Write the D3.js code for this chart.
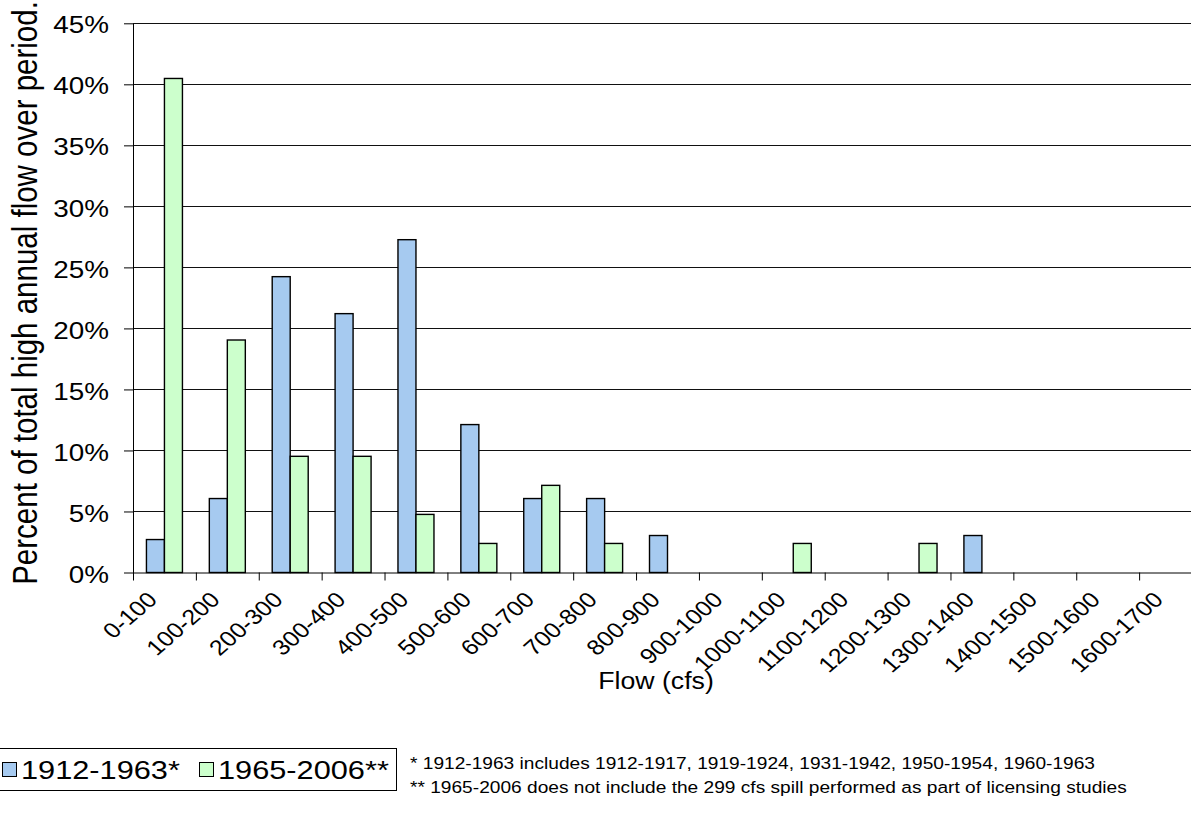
<!DOCTYPE html>
<html>
<head>
<meta charset="utf-8">
<script src="https://cdn.jsdelivr.net/npm/d3@7"></script>
<style>
  body { margin: 0; background: #fff; }
  svg { display: block; }
  text { font-family: "Liberation Sans", Arial, sans-serif; fill: #000; }
</style>
</head>
<body>
<svg id="chart" width="1191" height="813"></svg>
<script>
// Flow classes (cfs)
const categories = ["0-100", "100-200", "200-300", "300-400", "400-500", "500-600",
  "600-700", "700-800", "800-900", "900-1000", "1000-1100", "1100-1200",
  "1200-1300", "1300-1400", "1400-1500", "1500-1600", "1600-1700"];

// Percent of total high annual flow per class
const series1912 = [2.7, 6.06, 24.24, 21.21, 27.27, 12.12, 6.06, 6.06, 3.03, 0, 0, 0, 0, 3.03, 0, 0, 0];
const series1965 = [40.48, 19.05, 9.52, 9.52, 4.76, 2.38, 7.14, 2.38, 0, 0, 2.38, 0, 2.38, 0, 0, 0, 0];

const seriesNames = ["1912-1963*", "1965-2006**"];
const seriesColors = ["#A6CAF0", "#CCFFCC"];

const yTicks = [0, 5, 10, 15, 20, 25, 30, 35, 40, 45];

const footnotes = [
  "* 1912-1963 includes 1912-1917, 1919-1924, 1931-1942, 1950-1954, 1960-1963",
  "** 1965-2006 does not include the 299 cfs spill performed as part of licensing studies"
];

const xTitle = "Flow (cfs)";
const yTitle = "Percent of total high annual flow over period.";

// ---------------------------------------------------------------
const SX = 1.16;      // horizontal text stretch
const svg = d3.select("#chart");
const plotL = 133, plotR = 1202, plotT = 23.3, plotB = 572.5;

const x = d3.scaleBand().domain(categories).range([plotL, plotR]).padding(0);
const xs = d3.scaleBand().domain(seriesNames).range([0, x.bandwidth()])
  .paddingInner(0).paddingOuter(0.747);
const xIdx = d3.scaleLinear().domain([0, categories.length]).range([plotL, plotR]);
const y = d3.scaleLinear().domain([0, 45]).range([plotB, plotT]);

const rows = categories.map((c, i) => ({ cat: c, vals: [series1912[i], series1965[i]] }));

// gridlines
svg.append("g").selectAll("line")
  .data(yTicks.filter(d => d > 0))
  .join("line")
  .attr("x1", plotL).attr("x2", 1191)
  .attr("y1", d => Math.round(y(d)) + 0.5).attr("y2", d => Math.round(y(d)) + 0.5)
  .attr("stroke", "#111").attr("stroke-width", 1);

// bars
const groups = svg.append("g").selectAll("g")
  .data(rows).join("g")
  .attr("transform", d => `translate(${x(d.cat)},0)`);
groups.selectAll("rect")
  .data(d => d.vals.map((v, k) => ({ v, k })).filter(e => e.v > 0))
  .join("rect")
  .attr("x", e => xs(seriesNames[e.k]))
  .attr("width", xs.bandwidth())
  .attr("y", e => y(e.v))
  .attr("height", e => y(0) - y(e.v))
  .attr("fill", e => seriesColors[e.k])
  .attr("stroke", "#000").attr("stroke-width", 1.4);

// y axis
const yAxis = svg.append("g").attr("transform", `translate(${plotL},0)`)
  .call(d3.axisLeft(y).tickValues(yTicks).tickSize(9).tickSizeOuter(0)
    .tickFormat(d => d + "%"));
yAxis.selectAll("path, line").attr("stroke", "#000");
yAxis.selectAll("text")
  .attr("x", 0).attr("dy", "0.36em")
  .attr("text-anchor", "end")
  .attr("font-size", 24)
  .attr("transform", `translate(-24,1) scale(${SX},1)`);

// x axis: tick marks at class boundaries
const xAxis = svg.append("g").attr("transform", `translate(0,${plotB})`)
  .call(d3.axisBottom(xIdx).tickValues(d3.range(0, categories.length + 1))
    .tickSize(8).tickSizeOuter(0).tickFormat(""));
xAxis.selectAll("path, line").attr("stroke", "#000");

// x axis: slanted class labels
const xLab = svg.append("g").attr("transform", `translate(0,${plotB})`)
  .call(d3.axisBottom(x).tickSize(0));
xLab.select(".domain").remove();
xLab.selectAll("text")
  .attr("x", 0).attr("y", 0).attr("dy", 0)
  .attr("text-anchor", "end")
  .attr("font-size", 21.5)
  .attr("transform", `translate(-6,28.5) scale(${SX},1) rotate(-45)`);

// axis titles
svg.append("g").attr("transform", `translate(656,689) scale(${SX},1)`)
  .append("text").attr("text-anchor", "middle").attr("font-size", 23).text(xTitle);
svg.append("g").attr("transform", `translate(37,293) scale(${SX},1) rotate(-90)`)
  .append("text").attr("text-anchor", "middle").attr("font-size", 29.5).text(yTitle);

// legend
const lg = svg.append("g");
lg.append("rect").attr("x", -1.5).attr("y", 748.5).attr("width", 398).attr("height", 42)
  .attr("fill", "#fff").attr("stroke", "#000").attr("stroke-width", 1);
const legendX = [2, 199];
seriesNames.forEach((name, k) => {
  lg.append("rect").attr("x", legendX[k] + 0.5).attr("y", 762.5).attr("width", 14).attr("height", 14)
    .attr("fill", seriesColors[k]).attr("stroke", "#000").attr("stroke-width", 1);
  lg.append("g").attr("transform", `translate(${legendX[k] + 19},779) scale(${SX},1)`)
    .append("text").attr("font-size", 26.5).text(name);
});

// footnotes
footnotes.forEach((t, i) => {
  svg.append("g").attr("transform", `translate(410,${769 + i * 24}) scale(${SX},1)`)
    .append("text").attr("font-size", 16.5).text(t);
});
</script>
</body>
</html>
